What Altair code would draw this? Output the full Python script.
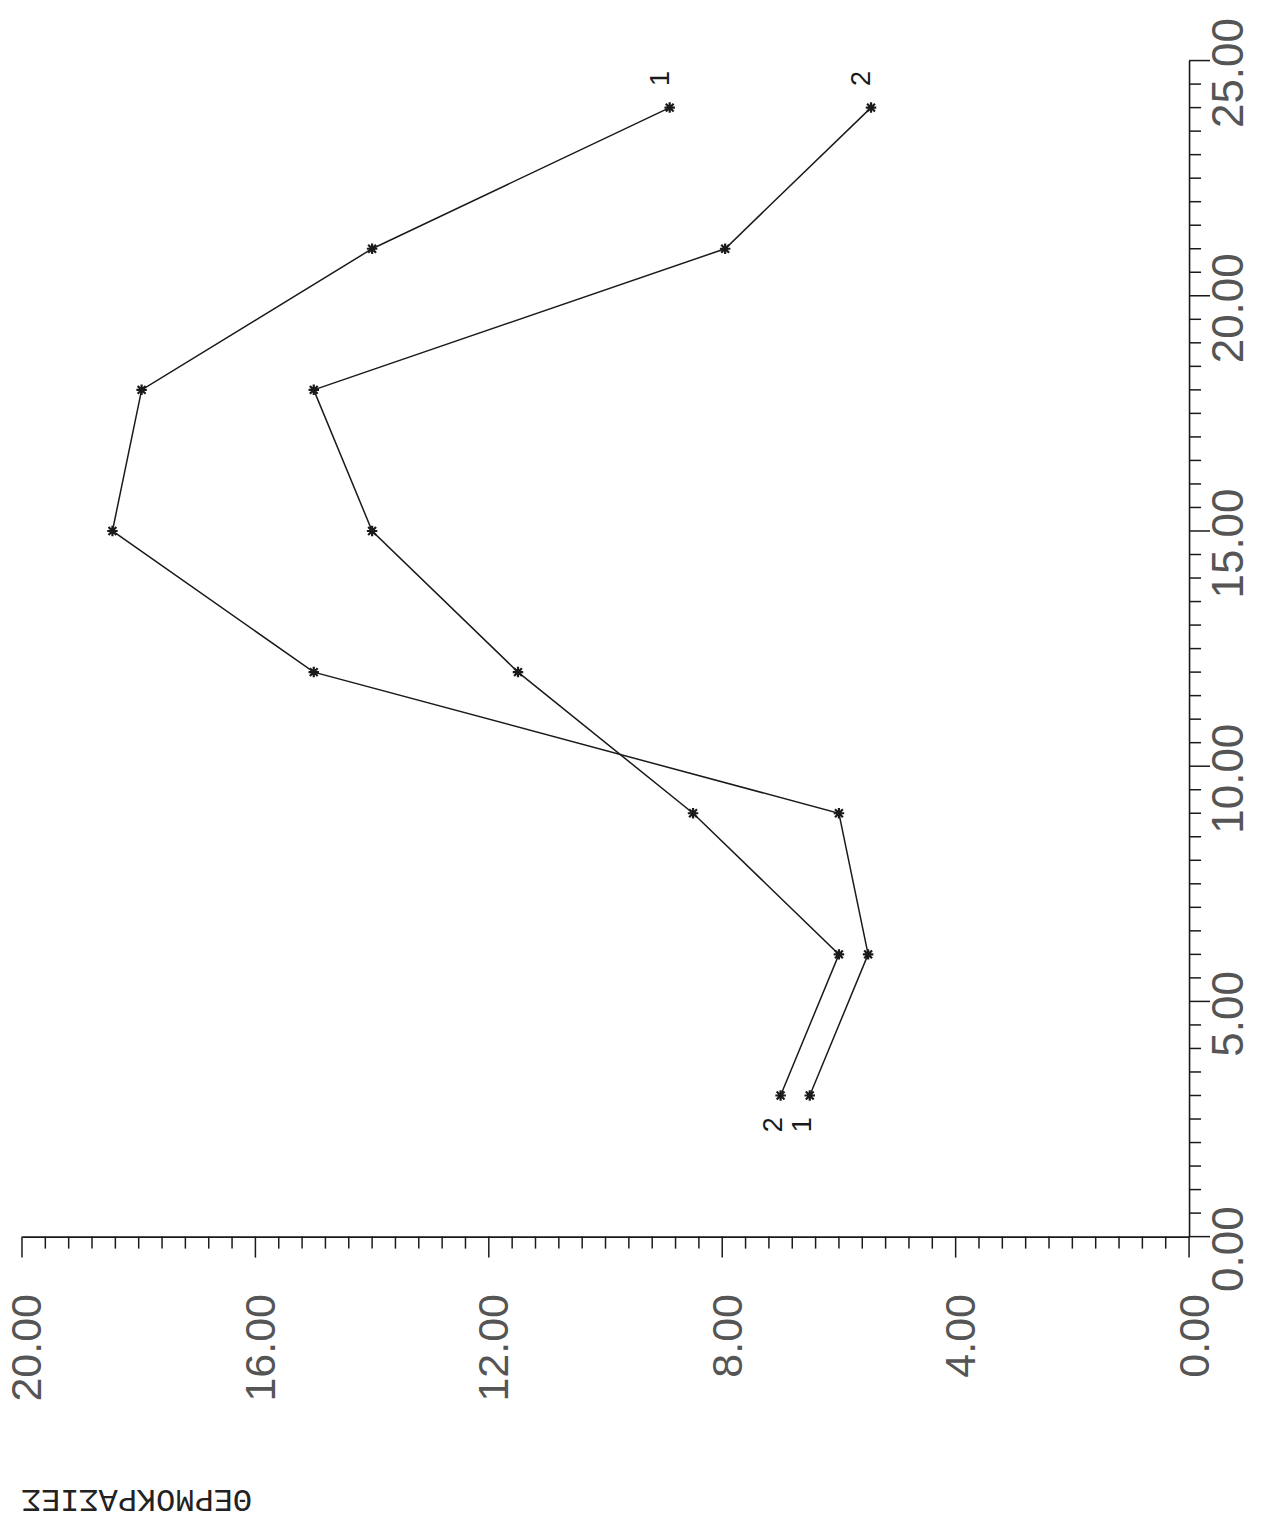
import altair as alt
import pandas as pd

# data (hours on the vertical axis, temperatures on the horizontal axis)
t_vals = [3, 6, 9, 12, 15, 18, 21, 24]
series1 = [6.5, 5.5, 6.0, 15.0, 18.45, 17.95, 14.0, 8.9]
series2 = [7.0, 6.0, 8.5, 11.5, 14.0, 15.0, 7.95, 5.45]
series_names = ["1", "2"]
title_text = "ΘΕΡΜΟΚΡΑΣΙΕΣ"

temp_major = [0, 4, 8, 12, 16, 20]
temp_minor = [round(i * 0.4, 1) for i in range(51) if i % 10 != 0]
time_major = [0, 5, 10, 15, 20, 25]
time_minor = [round(i * 0.5, 1) for i in range(51) if i % 10 != 0]

W, H = 1168, 1177

rows = []
for name, vals in zip(series_names, [series1, series2]):
    for t, v in zip(t_vals, vals):
        rows.append({"series": name, "t": t, "v": v})
df = pd.DataFrame(rows)

lab_rows = []
for name, vals in zip(series_names, [series1, series2]):
    lab_rows.append({"series": name, "t": t_vals[-1] + 0.62, "v": vals[-1] + 0.15})
    lab_rows.append({"series": name, "t": t_vals[0] - 0.62, "v": vals[0] + 0.12})
labels = pd.DataFrame(lab_rows)

ink = "#1a1a1a"
label_color = "#555555"

x_enc = alt.X(
    "v:Q",
    scale=alt.Scale(domain=[0, 20], reverse=True, nice=False, zero=False),
    axis=alt.Axis(
        orient="bottom",
        values=temp_major,
        format=".2f",
        ticks=False,
        tickSize=0,
        domainColor=ink,
        domainWidth=1.6,
        labelAngle=270,
        labelFont="Liberation Sans",
        labelFontSize=43,
        labelColor=label_color,
        labelPadding=57,
        labelOffset=6,
        labelOverlap=False,
        labelFlush=False,
        grid=False,
        title=None,
    ),
)

y_enc = alt.Y(
    "t:Q",
    scale=alt.Scale(domain=[0, 25], nice=False, zero=False),
    axis=alt.Axis(
        orient="right",
        values=time_major,
        format=".2f",
        ticks=False,
        tickSize=0,
        domainColor=ink,
        domainWidth=1.6,
        labelAngle=270,
        labelFont="Liberation Sans",
        labelFontSize=44,
        labelColor=label_color,
        labelPadding=18,
        labelOffset=12,
        labelOverlap=False,
        labelFlush=False,
        grid=False,
        title=None,
    ),
)

base = alt.Chart(df)

lines = base.mark_line(color=ink, strokeWidth=1.5).encode(
    x=x_enc, y=y_enc, detail="series:N", order="t:Q"
)

star = "M-1,0L1,0M0,-1L0,1M-0.75,-0.75L0.75,0.75M-0.75,0.75L0.75,-0.75"
points = base.mark_point(
    shape=star, size=110, filled=False, stroke=ink, strokeWidth=2.2, opacity=1
).encode(x="v:Q", y="t:Q")

series_labels = alt.Chart(labels).mark_text(
    angle=270, font="Liberation Sans", fontSize=27, color=ink, align="center", baseline="middle"
).encode(x="v:Q", y="t:Q", text="series:N")

# manual tick marks (minor and major)
bx_minor = alt.Chart(pd.DataFrame({"v": temp_minor})).mark_rule(color=ink, strokeWidth=1.5).encode(
    x="v:Q", y=alt.value(H), y2=alt.value(H + 12)
)
bx_major = alt.Chart(pd.DataFrame({"v": temp_major})).mark_rule(color=ink, strokeWidth=1.5).encode(
    x="v:Q", y=alt.value(H), y2=alt.value(H + 21)
)
ry_minor = alt.Chart(pd.DataFrame({"t": time_minor})).mark_rule(color=ink, strokeWidth=1.5).encode(
    y="t:Q", x=alt.value(W), x2=alt.value(W + 12)
)
ry_major = alt.Chart(pd.DataFrame({"t": time_major})).mark_rule(color=ink, strokeWidth=1.5).encode(
    y="t:Q", x=alt.value(W), x2=alt.value(W + 21)
)

title = alt.Chart(pd.DataFrame({"txt": [title_text]})).mark_text(
    angle=180, font="Liberation Mono", fontSize=32, color="#222222", align="center", baseline="middle"
).encode(text="txt:N", x=alt.value(115), y=alt.value(1441))

chart = alt.layer(
    lines, points, series_labels, bx_minor, bx_major, ry_minor, ry_major, title
).properties(
    width=W,
    height=H,
    padding={"left": 14, "top": 52, "right": 70, "bottom": 284},
    autosize=alt.AutoSizeParams(type="none"),
).configure_view(stroke=None)

chart.save("out.html", embed_options={"renderer": "svg", "actions": False})
